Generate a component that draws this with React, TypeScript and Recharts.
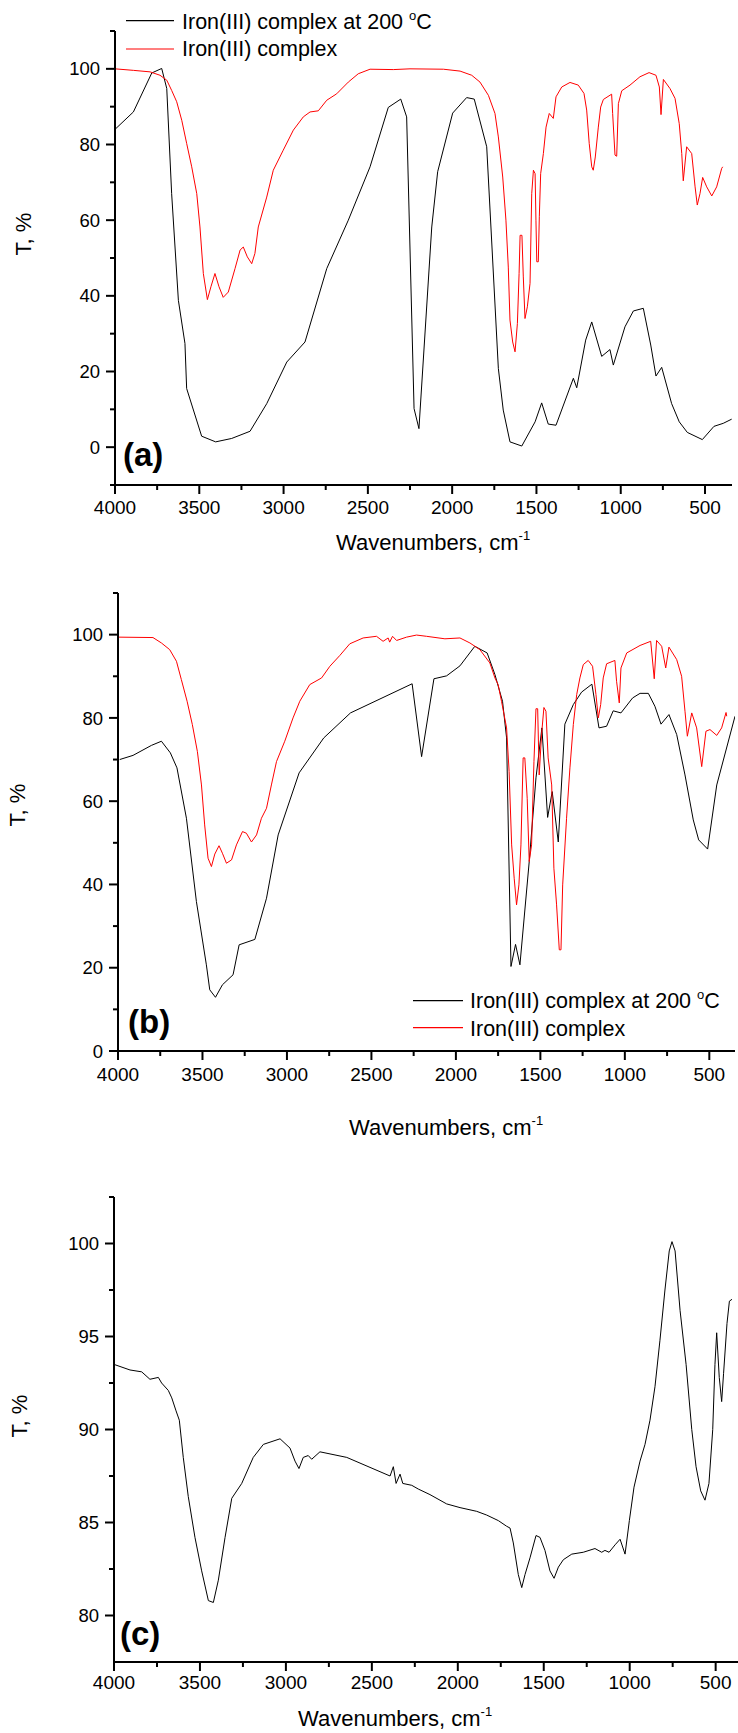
import React from "react";
import { LineChart, Line, XAxis, YAxis, Legend } from "recharts";

const FONT = "'Liberation Sans', Arial, Helvetica, sans-serif";

// ---- panel (a) ----
const aHeatedWn = [4000, 3891, 3782, 3723, 3693, 3664, 3624, 3585, 3575, 3486, 3403, 3308, 3199, 3100, 2981, 2873, 2744, 2616, 2487, 2379, 2305, 2270, 2226, 2197, 2121, 2086, 1997, 1914, 1869, 1795, 1726, 1697, 1657, 1587, 1508, 1469, 1430, 1384, 1281, 1261, 1208, 1172, 1113, 1064, 1044, 975, 925, 866, 822, 791, 757, 698, 653, 605, 516, 447, 392, 342];
const aHeatedT = [84, 88.6, 98.9, 100.1, 94.8, 67, 38.8, 27.4, 15.5, 2.9, 1.4, 2.3, 4.2, 11.5, 22.5, 27.8, 47.2, 60, 74.1, 89.8, 92, 87.3, 10.2, 4.9, 58.2, 72.8, 88.3, 92.4, 92, 79.4, 20.8, 9.8, 1.4, 0.3, 6.7, 11.7, 6.1, 5.8, 18.2, 15.7, 28.3, 33.1, 24, 25.8, 21.7, 31.8, 36, 36.7, 27, 18.8, 21.1, 11.5, 6.7, 3.9, 2, 5.5, 6.3, 7.4];

const aComplexWn = [4000, 3891, 3792, 3733, 3693, 3664, 3634, 3604, 3575, 3545, 3515, 3496, 3476, 3452, 3431, 3407, 3383, 3358, 3328, 3288, 3258, 3239, 3215, 3189, 3170, 3150, 3100, 3061, 3002, 2942, 2883, 2843, 2794, 2744, 2685, 2616, 2557, 2487, 2349, 2250, 2052, 1953, 1884, 1835, 1785, 1746, 1726, 1700, 1681, 1667, 1657, 1641, 1627, 1613, 1603, 1597, 1586, 1578, 1568, 1554, 1538, 1528, 1518, 1508, 1503, 1498, 1489, 1483, 1475, 1459, 1443, 1424, 1400, 1384, 1350, 1301, 1252, 1218, 1202, 1187, 1172, 1163, 1151, 1133, 1119, 1103, 1054, 1048, 1034, 1024, 1014, 994, 945, 886, 832, 791, 771, 761, 747, 708, 678, 653, 638, 629, 609, 579, 559, 546, 530, 514, 490, 460, 431, 401, 395];
const aComplexT = [100, 99.6, 99.2, 98.3, 97, 94.3, 91.3, 86.4, 80.3, 74.1, 67, 58.2, 45.9, 39, 42.4, 45.9, 42.4, 39.6, 41, 47.2, 52.1, 52.9, 50.3, 48.5, 51.2, 58.2, 66.1, 73.2, 78.5, 83.8, 87.3, 88.6, 88.9, 91.7, 93.4, 96.5, 98.7, 99.9, 99.8, 100, 99.9, 99.4, 98.3, 96.5, 93, 88.2, 82, 71.4, 60, 47.6, 33.6, 27.8, 25.2, 32.7, 45.9, 56, 56, 45, 34, 37.1, 43.3, 67, 73.2, 72.3, 60, 49, 49, 60.9, 72.3, 77.6, 84.6, 88.2, 86.9, 92.6, 95.2, 96.4, 95.7, 93.5, 89.1, 80.3, 74.1, 73.2, 76.7, 84.6, 89.9, 91.9, 93.3, 88.2, 77.2, 76.9, 90.8, 94.2, 95.7, 97.9, 99, 98.3, 95.2, 87.9, 97.2, 94.8, 92.2, 85.5, 77.6, 70.4, 79.4, 77.6, 68.8, 64, 67, 71.3, 68.8, 66.4, 68.8, 73.7, 74.1];

// ---- panel (b) ----
const bHeatedWn = [3990, 3911, 3802, 3743, 3690, 3651, 3595, 3536, 3477, 3457, 3423, 3382, 3319, 3283, 3190, 3121, 3052, 2928, 2782, 2624, 2259, 2203, 2130, 2055, 1976, 1888, 1815, 1769, 1724, 1700, 1674, 1647, 1621, 1566, 1526, 1491, 1457, 1430, 1394, 1355, 1305, 1256, 1195, 1153, 1108, 1069, 1023, 954, 910, 861, 822, 786, 739, 693, 644, 595, 563, 510, 456, 348];
const bHeatedT = [70, 71, 73.4, 74.4, 71.6, 68, 55.9, 35.9, 20.7, 14.7, 12.9, 15.9, 18.3, 25.5, 26.8, 36.7, 51.9, 66.8, 75.2, 81.2, 88.2, 70.7, 89.4, 90.1, 92.5, 97.2, 95.6, 90.4, 84, 75.2, 20.3, 25.6, 20.7, 45.5, 65.6, 77.6, 56.1, 62.3, 50.2, 78.5, 83.2, 86.2, 88.1, 77.6, 78, 81.7, 81.2, 84.8, 85.9, 85.9, 82.8, 78.5, 80.8, 76, 66.3, 55.5, 50.7, 48.5, 63.9, 80.4];

const bComplexWn = [4000, 3793, 3743, 3694, 3654, 3625, 3591, 3560, 3530, 3506, 3487, 3467, 3447, 3427, 3402, 3382, 3358, 3328, 3299, 3263, 3240, 3210, 3180, 3151, 3121, 3092, 3062, 3013, 2964, 2924, 2865, 2795, 2746, 2687, 2628, 2549, 2470, 2431, 2401, 2392, 2375, 2351, 2292, 2233, 2174, 2065, 1976, 1917, 1858, 1799, 1769, 1750, 1730, 1700, 1685, 1670, 1655, 1641, 1627, 1615, 1602, 1592, 1578, 1566, 1552, 1538, 1526, 1516, 1507, 1493, 1479, 1467, 1454, 1433, 1420, 1404, 1388, 1378, 1368, 1345, 1325, 1305, 1285, 1266, 1246, 1217, 1191, 1171, 1157, 1143, 1128, 1108, 1059, 1049, 1033, 1023, 989, 910, 847, 826, 812, 782, 758, 739, 693, 664, 644, 630, 604, 575, 545, 520, 496, 456, 427, 401, 397];
const bComplexT = [99.4, 99.3, 98, 96.4, 93.6, 89.2, 84, 78.4, 71.9, 63.9, 54.3, 46.3, 44.3, 47.3, 49.3, 47.5, 45.1, 45.9, 49.5, 52.7, 52.3, 50.2, 51.9, 55.9, 58.3, 63.9, 69.5, 74.4, 80, 84, 88, 89.6, 92.4, 95, 97.8, 99.2, 99.6, 98.4, 99.2, 98.2, 99.6, 98.6, 99.4, 99.9, 99.6, 99, 99.2, 98, 96.4, 93.2, 89.6, 88, 84, 77.6, 67.1, 49.5, 41.5, 35.1, 39.9, 49.5, 70.4, 70.4, 60.7, 45.5, 49.5, 69.5, 82.2, 82.2, 66.3, 76, 82.5, 81.6, 70.4, 63.9, 43.9, 35.1, 24.3, 24.3, 39.9, 55.9, 68, 78.4, 85.6, 89.6, 92.8, 93.8, 92.4, 85.6, 80, 83.2, 89.6, 93, 93.8, 88.8, 83.6, 92, 95.6, 97.4, 98.4, 89.4, 98.6, 97.2, 92, 97, 94, 90, 81.6, 75.6, 81.2, 77.6, 68.3, 76.8, 77.2, 75.8, 77.6, 81.3, 80.4];

// ---- panel (c) ----
const cWn = [4000, 3907, 3839, 3791, 3742, 3723, 3684, 3664, 3639, 3620, 3597, 3568, 3529, 3490, 3451, 3422, 3393, 3354, 3315, 3257, 3190, 3131, 3034, 2976, 2947, 2924, 2899, 2870, 2850, 2802, 2646, 2394, 2375, 2359, 2336, 2320, 2268, 2230, 2162, 2065, 1987, 1890, 1832, 1764, 1716, 1696, 1677, 1648, 1628, 1609, 1580, 1545, 1522, 1493, 1464, 1440, 1415, 1386, 1337, 1270, 1202, 1163, 1144, 1120, 1085, 1056, 1027, 1002, 975, 940, 911, 882, 853, 824, 795, 770, 754, 736, 707, 672, 639, 614, 587, 562, 539, 517, 504, 494, 479, 465, 454, 434, 420, 405];
const cT = [93.5, 93.2, 93.1, 92.7, 92.8, 92.5, 92.1, 91.7, 91, 90.5, 88.5, 86.4, 84.2, 82.4, 80.8, 80.7, 81.9, 84.2, 86.3, 87.1, 88.5, 89.2, 89.5, 89, 88.3, 87.9, 88.5, 88.6, 88.4, 88.8, 88.5, 87.5, 88, 87.1, 87.6, 87.1, 87, 86.8, 86.5, 86, 85.8, 85.6, 85.4, 85.1, 84.8, 84.7, 83.9, 82.2, 81.5, 82.2, 83.1, 84.3, 84.2, 83.5, 82.4, 82, 82.6, 83, 83.3, 83.4, 83.6, 83.4, 83.5, 83.4, 83.8, 84.1, 83.3, 85.1, 86.9, 88.3, 89.2, 90.5, 92.3, 94.8, 97.5, 99.6, 100.1, 99.6, 96.4, 93.5, 90, 88, 86.7, 86.2, 87.1, 90, 93.5, 95.2, 92.8, 91.5, 93, 95.7, 96.9, 97];

// ---- ticks ----
const xTicks = [4000, 3750, 3500, 3250, 3000, 2750, 2500, 2250, 2000, 1750, 1500, 1250, 1000, 750, 500];
const xMajor = [4000, 3500, 3000, 2500, 2000, 1500, 1000, 500];
const yTicksA = [-10, 0, 10, 20, 30, 40, 50, 60, 70, 80, 90, 100, 110];
const yMajorA = [0, 20, 40, 60, 80, 100];
const yTicksB = [0, 10, 20, 30, 40, 50, 60, 70, 80, 90, 100, 110];
const yMajorB = [0, 20, 40, 60, 80, 100];
const yTicksC = [80, 82.5, 85, 87.5, 90, 92.5, 95, 97.5, 100, 102.5];
const yMajorC = [80, 85, 90, 95, 100];

const zip = (wn: number[], t: number[]) => wn.map((w, i) => ({ w, t: t[i] }));

const aHeated = zip(aHeatedWn, aHeatedT);
const aComplex = zip(aComplexWn, aComplexT);
const bHeated = zip(bHeatedWn, bHeatedT);
const bComplex = zip(bComplexWn, bComplexT);
const cSample = zip(cWn, cT);

function XTick(props: any) {
  const { x, y, payload, labelDy } = props;
  const major = xMajor.includes(payload.value);
  return (
    <g>
      <line x1={x} x2={x} y1={y} y2={y + (major ? 9 : 5)} stroke="#000" strokeWidth={2} />
      {major && (
        <text x={x} y={y + labelDy} textAnchor="middle" fontSize={19} fontFamily={FONT} fill="#000">
          {payload.value}
        </text>
      )}
    </g>
  );
}

function YTick(props: any) {
  const { x, y, payload, majors } = props;
  const major = majors.includes(payload.value);
  return (
    <g>
      <line x1={x} x2={x - (major ? 9 : 5)} y1={y} y2={y} stroke="#000" strokeWidth={2} />
      {major && (
        <text x={x - 15} y={y} dy="0.36em" textAnchor="end" fontSize={18.5} fontFamily={FONT} fill="#000">
          {payload.value}
        </text>
      )}
    </g>
  );
}

function legendBox(x0: number, x1: number, tx: number, rows: number[]) {
  // rows: [black line y, black baseline, red line y, red baseline]
  return () => (
    <svg width={738} height={70} style={{ display: "block" }}>
      <line x1={x0} x2={x1} y1={rows[0]} y2={rows[0]} stroke="#000" strokeWidth={1.2} />
      <text x={tx} y={rows[1]} fontSize={21.5} fontFamily={FONT} fill="#000">
        Iron(III) complex at 200 <tspan fontSize={13} dy={-9}>o</tspan>
        <tspan fontSize={21.5} dy={9}>C</tspan>
      </text>
      <line x1={x0} x2={x1} y1={rows[2]} y2={rows[2]} stroke="#ff0000" strokeWidth={1.2} />
      <text x={tx} y={rows[3]} fontSize={21.5} fontFamily={FONT} fill="#000">
        Iron(III) complex
      </text>
    </svg>
  );
}

function Titles({ tx, ty, wx, wy, px, py, panel }: any) {
  return (
    <g>
      <text
        x={tx}
        y={ty}
        transform={`rotate(-90 ${tx} ${ty})`}
        textAnchor="middle"
        fontSize={22}
        fontFamily={FONT}
        fill="#000"
      >
        T, %
      </text>
      <text x={wx} y={wy} fontSize={22} fontFamily={FONT} fill="#000">
        Wavenumbers, cm<tspan fontSize={13} dy={-10}>-1</tspan>
      </text>
      <text x={px} y={py} fontSize={33} fontWeight="bold" fontFamily={FONT} fill="#000">
        {panel}
      </text>
    </g>
  );
}

const axisStroke = { stroke: "#000", strokeWidth: 2 };

export default function App() {
  return (
    <div style={{ position: "absolute", left: 0, top: 0, width: 738, height: 1733, background: "#fff" }}>
      {/* (a) */}
      <div style={{ position: "absolute", left: 0, top: 0 }}>
        <LineChart width={738} height={560} margin={{ top: 31, right: 6, bottom: 45, left: 55 }}>
          <XAxis
            type="number"
            dataKey="w"
            domain={[340, 4000]}
            reversed
            allowDataOverflow
            ticks={xTicks}
            interval={0}
            height={30}
            tickSize={0}
            tickMargin={0}
            tickLine={false}
            axisLine={axisStroke}
            tick={(p: any) => <XTick {...p} labelDy={29} />}
          />
          <YAxis
            type="number"
            domain={[-10, 110]}
            allowDataOverflow
            ticks={yTicksA}
            interval={0}
            width={60}
            tickSize={0}
            tickMargin={0}
            tickLine={false}
            axisLine={axisStroke}
            tick={(p: any) => <YTick {...p} majors={yMajorA} />}
          />
          <Line data={aHeated} dataKey="t" type="linear" stroke="#000" strokeWidth={1} dot={false} isAnimationActive={false} />
          <Line data={aComplex} dataKey="t" type="linear" stroke="#ff0000" strokeWidth={1} dot={false} isAnimationActive={false} />
          <Legend
            layout="horizontal"
            verticalAlign="middle"
            align="center"
            wrapperStyle={{ left: 0, top: 0, width: 738, height: 70 }}
            content={legendBox(126, 174, 182, [20.7, 29.3, 49, 56])}
          />
          <Titles tx={31} ty={234} wx={336} wy={550} px={123} py={466} panel="(a)" />
        </LineChart>
      </div>

      {/* (b) */}
      <div style={{ position: "absolute", left: 0, top: 560 }}>
        <LineChart width={738} height={580} margin={{ top: 33, right: 3, bottom: 59, left: 58 }}>
          <XAxis
            type="number"
            dataKey="w"
            domain={[348, 4000]}
            reversed
            allowDataOverflow
            ticks={xTicks}
            interval={0}
            height={30}
            tickSize={0}
            tickMargin={0}
            tickLine={false}
            axisLine={axisStroke}
            tick={(p: any) => <XTick {...p} labelDy={30} />}
          />
          <YAxis
            type="number"
            domain={[0, 110]}
            allowDataOverflow
            ticks={yTicksB}
            interval={0}
            width={60}
            tickSize={0}
            tickMargin={0}
            tickLine={false}
            axisLine={axisStroke}
            tick={(p: any) => <YTick {...p} majors={yMajorB} />}
          />
          <Line data={bHeated} dataKey="t" type="linear" stroke="#000" strokeWidth={1} dot={false} isAnimationActive={false} />
          <Line data={bComplex} dataKey="t" type="linear" stroke="#ff0000" strokeWidth={1} dot={false} isAnimationActive={false} />
          <Legend
            layout="horizontal"
            verticalAlign="middle"
            align="center"
            wrapperStyle={{ left: 0, top: 420, width: 738, height: 70 }}
            content={legendBox(413, 463, 470, [20.7, 28.3, 47.7, 55.7])}
          />
          <Titles tx={25} ty={245} wx={349} wy={575} px={128} py={473} panel="(b)" />
        </LineChart>
      </div>

      {/* (c) */}
      <div style={{ position: "absolute", left: 0, top: 1140 }}>
        <LineChart width={738} height={593} margin={{ top: 57, right: 0, bottom: 41, left: 54 }}>
          <XAxis
            type="number"
            dataKey="w"
            domain={[370, 4000]}
            reversed
            allowDataOverflow
            ticks={xTicks}
            interval={0}
            height={30}
            tickSize={0}
            tickMargin={0}
            tickLine={false}
            axisLine={axisStroke}
            tick={(p: any) => <XTick {...p} labelDy={27} />}
          />
          <YAxis
            type="number"
            domain={[77.5, 102.5]}
            allowDataOverflow
            ticks={yTicksC}
            interval={0}
            width={60}
            tickSize={0}
            tickMargin={0}
            tickLine={false}
            axisLine={axisStroke}
            tick={(p: any) => <YTick {...p} majors={yMajorC} />}
          />
          <Line data={cSample} dataKey="t" type="linear" stroke="#000" strokeWidth={1} dot={false} isAnimationActive={false} />
          <Titles tx={27} ty={276} wx={298} wy={586} px={120} py={505} panel="(c)" />
        </LineChart>
      </div>
    </div>
  );
}
